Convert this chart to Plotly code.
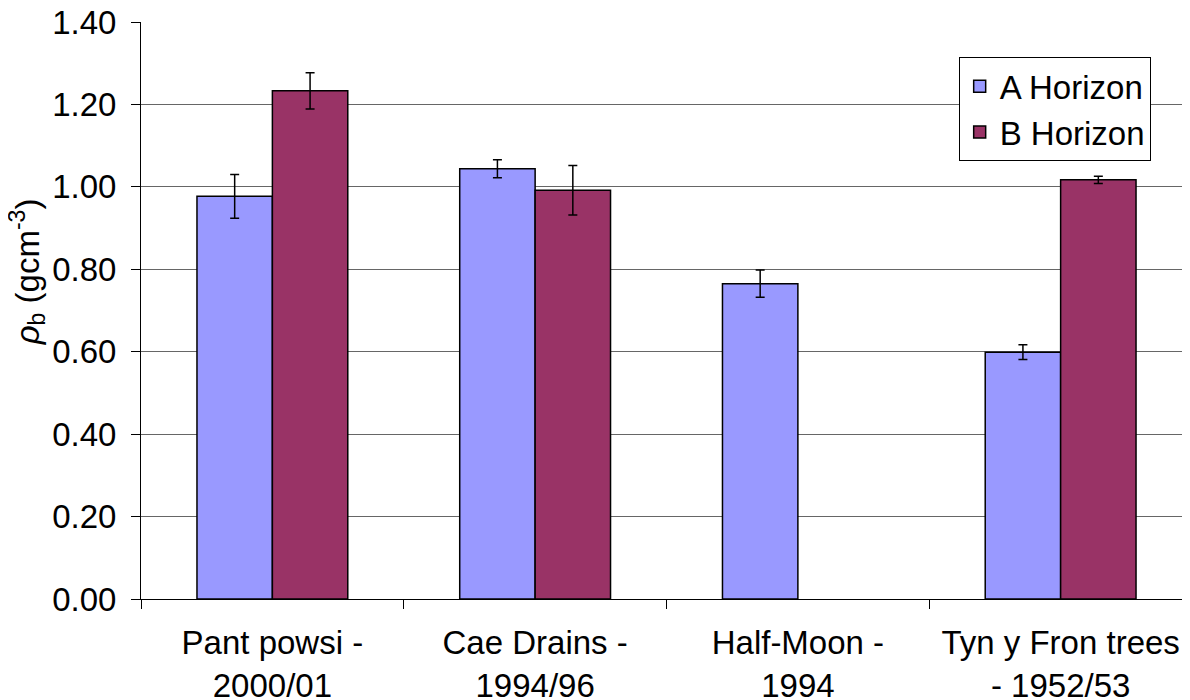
import plotly.graph_objects as go

categories = ["Pant powsi -<br>2000/01", "Cae Drains -<br>1994/96", "Half-Moon -<br>1994", "Tyn y Fron trees<br>- 1952/53"]
a_values = [0.977, 1.044, 0.765, 0.599]
a_errors = [0.053, 0.022, 0.033, 0.018]
b_values = [1.233, 0.992, None, 1.017]
b_errors = [0.044, 0.060, None, 0.009]
y_ticks = [0, 0.2, 0.4, 0.6, 0.8, 1.0, 1.2, 1.4]
y_title = "<i>ρ</i><sub>b</sub> (gcm<sup>-3</sup>)"

font_family = "Liberation Sans, Arial, sans-serif"
FS = 33

fig = go.Figure()
fig.add_trace(go.Bar(
    name="A Horizon", x=categories, y=a_values,
    marker=dict(color="#9999FF", line=dict(color="black", width=1.5)),
    error_y=dict(type="data", array=a_errors, color="black", thickness=1.5, width=4.5),
))
fig.add_trace(go.Bar(
    name="B Horizon", x=categories, y=b_values,
    marker=dict(color="#993366", line=dict(color="black", width=1.5)),
    error_y=dict(type="data", array=[e if e is not None else 0 for e in b_errors], color="black", thickness=1.5, width=4.5),
))

fig.update_layout(
    width=1190, height=700,
    margin=dict(l=133, r=6, t=14, b=109, autoexpand=False),
    barmode="group", bargap=0.426, bargroupgap=0,
    plot_bgcolor="white", paper_bgcolor="white",
    font=dict(family=font_family, size=FS, color="black"),
    showlegend=True,
    legend=dict(
        x=0.778, y=0.939, xanchor="left", yanchor="top",
        bgcolor="white", bordercolor="black", borderwidth=1,
        font=dict(size=FS), tracegroupgap=0,
    ),
    xaxis=dict(
        showline=True, linecolor="black", linewidth=1,
        ticks="outside", tickson="boundaries", ticklen=9, tickcolor="black",
        tickfont=dict(size=FS), showgrid=False, automargin=False,
        ticklabelstandoff=14, ticklabeloverflow="allow",
    ),
    yaxis=dict(
        range=[0, 1.4], tickvals=y_ticks, tickformat=".2f",
        showline=True, linecolor="black", linewidth=1,
        ticks="outside", ticklen=9, tickcolor="black",
        showgrid=True, gridcolor="#666666", gridwidth=1,
        tickfont=dict(size=FS), zeroline=False, automargin=False,
        ticklabelstandoff=8, ticklabeloverflow="allow",
    ),
    annotations=[dict(
        text=y_title, textangle=-90, showarrow=False,
        xref="paper", yref="paper", x=-0.108, y=0.567,
        xanchor="center", yanchor="middle", font=dict(size=FS),
    )],
)

fig.write_html("out.html")
